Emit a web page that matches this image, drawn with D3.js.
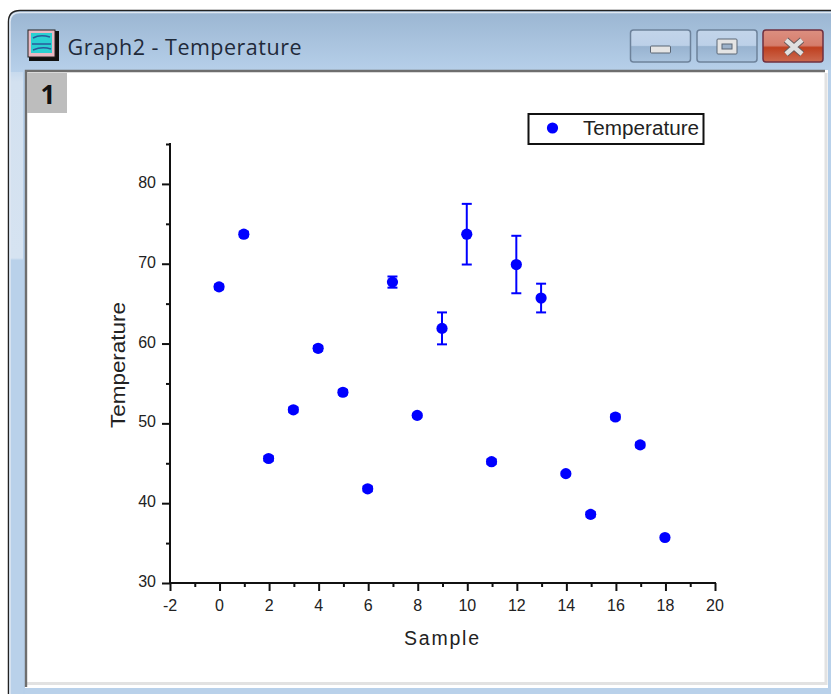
<!DOCTYPE html>
<html><head><meta charset="utf-8">
<script src="https://cdn.jsdelivr.net/npm/d3@7/dist/d3.min.js"></script>
<style>html,body{margin:0;padding:0;background:#fff}svg{display:block}text{font-family:"Liberation Sans",Arial,sans-serif}</style>
</head><body><div id="c"></div>
<script>
const samples=[0,1,2,3,4,5,6,7,8,9,10,11,12,13,14,15,16,17,18];
const temperature=[67.1,73.7,45.6,51.7,59.4,53.9,41.8,67.7,51,61.9,73.7,45.2,69.9,65.7,43.7,38.6,50.8,47.3,35.7];
const errors=[0.3,0.3,0.3,0.3,0.3,0.3,0.3,0.7,0.2,2,3.8,0.3,3.6,1.8,0.2,0.3,0.3,0.3,0.2];
const xTicks=[-2,0,2,4,6,8,10,12,14,16,18,20];
const yTicks=[30,40,50,60,70,80];
const xMinor=[-1,1,3,5,7,9,11,13,15,17,19];
const yMinor=[35,45,55,65,75,85];
const windowTitle="Graph2 - Temperature";

const W=831,H=694;
const svg=d3.select("#c").append("svg").attr("width",W).attr("height",H);
const defs=svg.append("defs");
function grad(id,stops,user){const g=defs.append("linearGradient").attr("id",id).attr("x1",0).attr("x2",0).attr("y1",user?user[0]:0).attr("y2",user?user[1]:1);
 if(user)g.attr("gradientUnits","userSpaceOnUse");
 stops.forEach(s=>g.append("stop").attr("offset",s[0]).attr("stop-color",s[1]));}
grad("frame",[[0,"#9bb6d2"],[1,"#b7d0ea"]],[12,72]);
grad("hilite",[[0,"#b9d1ea"],[0.1,"#d3e1f0"],[0.9,"#d6e3f1"],[0.91,"#b9d1ea"],[1,"#b9d1ea"]],[60,280]);
grad("btn",[[0,"#c3d5ea"],[0.48,"#bcd0e8"],[0.52,"#98b3d0"],[1,"#a9c3de"]]);
grad("close",[[0,"#dc8f80"],[0.48,"#d57d6c"],[0.55,"#bf4020"],[1,"#cc6a50"]]);

// window frame
svg.append("path").attr("d","M8.5,694V22Q8.5,11,20,11H831V694Z").attr("fill","url(#frame)");
svg.append("rect").attr("x",10).attr("y",72).attr("width",13).attr("height",622).attr("fill","url(#hilite)");
svg.append("path").attr("d","M8.5,694V22Q8.5,10.5,20,10.5H831").attr("fill","none").attr("stroke","#222").attr("stroke-width",1.5);
svg.append("path").attr("d","M10,694V22Q10,12.5,20,12.5H831").attr("fill","none").attr("stroke","#dfe8f2").attr("stroke-width",1.5);
svg.append("rect").attr("x",25).attr("y",70).attr("width",803).attr("height",618).attr("fill","#fff");
svg.append("path").attr("d","M826,73V683.5H27").attr("fill","none").attr("stroke","#e2e2e2").attr("stroke-width",3);
svg.append("path").attr("d","M26,687V71H825").attr("fill","none").attr("stroke","#6e6e6e").attr("stroke-width",2.4);
svg.append("rect").attr("x",829).attr("y",70).attr("width",2).attr("height",624).attr("fill","#b9d1ea");
svg.append("rect").attr("x",25).attr("y",688).attr("width",806).attr("height",6).attr("fill","#b9d1ea");

// window icon
const ic=svg.append("g");
ic.append("rect").attr("x",29).attr("y",31).attr("width",30).attr("height",30).attr("fill","#111");
ic.append("rect").attr("x",28).attr("y",30).attr("width",27).attr("height",27).attr("fill","#e9b9c3").attr("stroke","#222");
ic.append("rect").attr("x",31).attr("y",33).attr("width",21).attr("height",20).attr("fill","#2ad0d2");
ic.append("path").attr("d","M33,38Q40,34,50,37M32,44H51M33,50Q42,46,51,49").attr("fill","none").attr("stroke","#2a5a9a").attr("stroke-width",1.6);
svg.append("text").attr("x",67.5).attr("y",55).attr("font-size",21.5).attr("fill","#1f2a3a").style("font-family","'Open Sans',sans-serif").attr("textLength",234).text(windowTitle);

// caption buttons
const btn=svg.append("g");
[[630.5,60,"url(#btn)","#6d829b"],[697,60,"url(#btn)","#6d829b"],[763,60,"url(#close)","#6f3040"]].forEach(b=>{
 btn.append("rect").attr("x",b[0]).attr("y",30).attr("width",b[1]).attr("height",32).attr("rx",3).attr("fill",b[2]).attr("stroke",b[3]).attr("stroke-width",1.5);});
btn.append("rect").attr("x",650.5).attr("y",46).attr("width",20).attr("height",7).attr("rx",1).attr("fill","#e4e4e4").attr("stroke","#5b6675");
btn.append("rect").attr("x",717).attr("y",39).attr("width",20).attr("height",15).attr("rx",1).attr("fill","#e4e4e4").attr("stroke","#5b6675");
btn.append("rect").attr("x",722).attr("y",44).attr("width",10).attr("height",5).attr("fill","#9db2ca").attr("stroke","#5b6675");
btn.append("path").attr("d","M786,40L802,54M802,40L786,54").attr("stroke","#6a5a5a").attr("stroke-width",6.5);
btn.append("path").attr("d","M786,40L802,54M802,40L786,54").attr("stroke","#e0e0e0").attr("stroke-width",4.5);

// layer tag
svg.append("rect").attr("x",27).attr("y",73).attr("width",40).attr("height",40).attr("fill","#bdbdbd");
svg.append("text").attr("x",48).attr("y",104).attr("text-anchor","middle").attr("font-size",26).attr("font-weight","bold").attr("fill","#111").style("font-family","'Open Sans',sans-serif").text("1");

// scales
const x=d3.scaleLinear().domain([-2,20]).range([170,715]);
const y=d3.scaleLinear().domain([30,85]).range([583,144]);
const ink="#111";

// axes
const gx=svg.append("g").attr("transform","translate(0,583)");
gx.call(d3.axisBottom(x).tickValues(xTicks).tickFormat(d=>String(d)).tickSize(8).tickPadding(8.5));
const gxm=svg.append("g").attr("transform","translate(0,583)");
gxm.call(d3.axisBottom(x).tickValues(xMinor).tickFormat("").tickSize(4));
const gy=svg.append("g").attr("transform","translate(170,0)");
gy.call(d3.axisLeft(y).tickValues(yTicks).tickFormat(d=>String(d)).tickSize(8).tickPadding(6));
const gym=svg.append("g").attr("transform","translate(170,0)");
gym.call(d3.axisLeft(y).tickValues(yMinor).tickFormat("").tickSize(4));
[gxm,gym].forEach(g=>g.select(".domain").remove());
[gx,gy,gxm,gym].forEach(g=>{
 g.selectAll(".domain").attr("stroke",ink).attr("stroke-width",2);
 g.selectAll("line").attr("stroke",ink).attr("stroke-width",2);
 g.selectAll("text").attr("font-size",16).attr("fill","#222").style("font-family","'Liberation Sans',Arial,sans-serif");
});
gx.selectAll("text").attr("dx",-0.5);
gy.selectAll("text").attr("dy","0.22em");
gx.select(".domain").attr("d",`M${x(-2)-1},0H${x(20)+1}`);
gy.select(".domain").attr("d",`M0,${y(85)-1}V${y(30)+1}`);

svg.append("text").attr("x",404).attr("y",645).attr("font-size",19.5).attr("fill","#222").attr("textLength",75).text("Sample");
svg.append("text").attr("transform","translate(125,428) rotate(-90)").attr("font-size",19.5).attr("fill","#222").attr("textLength",126).attr("lengthAdjust","spacingAndGlyphs").text("Temperature");

// error bars
const blue="#0000ff";
const eb=svg.append("g").attr("stroke",blue).attr("stroke-width",2).attr("fill","none");
samples.forEach((s,i)=>{
 const cx=x(s)-0.5,t=y(temperature[i]+errors[i]),b=y(temperature[i]-errors[i]);
 eb.append("line").attr("x1",cx).attr("x2",cx).attr("y1",t).attr("y2",b);
 eb.append("line").attr("x1",cx-5).attr("x2",cx+5).attr("y1",t).attr("y2",t);
 eb.append("line").attr("x1",cx-5).attr("x2",cx+5).attr("y1",b).attr("y2",b);
});
// points
svg.append("g").selectAll("circle").data(samples).join("circle")
 .attr("cx",d=>x(d)-0.5).attr("cy",(d,i)=>y(temperature[i])).attr("r",5.6).attr("fill",blue);

// legend
svg.append("rect").attr("x",528.5).attr("y",114).attr("width",175).attr("height",30).attr("fill","#fff").attr("stroke","#111").attr("stroke-width",2);
svg.append("circle").attr("cx",552.5).attr("cy",128).attr("r",5.6).attr("fill",blue);
svg.append("text").attr("x",583).attr("y",135).attr("font-size",19.5).attr("fill","#222").attr("textLength",116).attr("lengthAdjust","spacingAndGlyphs").text("Temperature");
</script></body></html>
